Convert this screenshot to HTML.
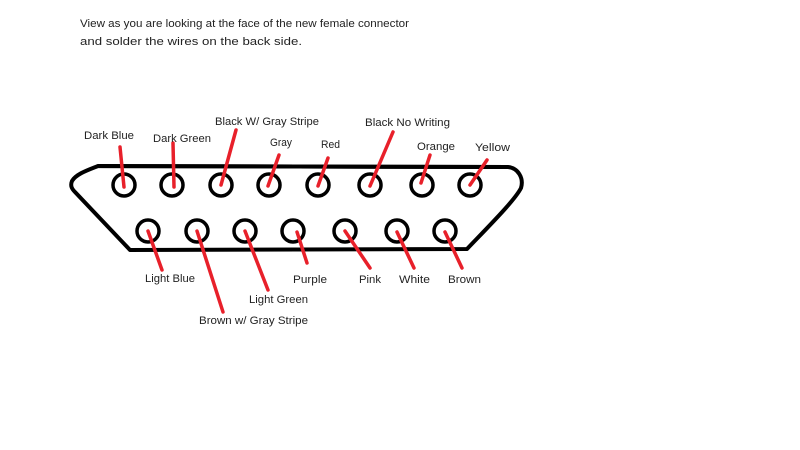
<!DOCTYPE html>
<html><head><meta charset="utf-8"><style>
html,body{margin:0;padding:0;background:#fff;}
svg{display:block;}
text{font-family:"Liberation Sans",sans-serif;font-size:11px;fill:#222;}
</style></head><body>
<svg width="800" height="450" viewBox="0 0 800 450">
<text x="80" y="27" textLength="329" lengthAdjust="spacingAndGlyphs">View as you are looking at the face of the new female connector</text>
<text x="80" y="45" textLength="222" lengthAdjust="spacingAndGlyphs">and solder the wires on the back side.</text>
<path d="M98,166 C88,170 76,174 72,181 C70,186 72,189 75,192 L130,250 L467,249 C490,225 515,200 521,188 C524,178 518,168 508,167 Z" fill="none" stroke="#000" stroke-width="4" stroke-linejoin="round"/>
<line x1="98" y1="166" x2="508" y2="167" stroke="#000" stroke-width="4"/>
<g fill="none" stroke="#000" stroke-width="3.5">
<circle cx="124" cy="185" r="11"/><circle cx="172" cy="185" r="11"/><circle cx="221" cy="185" r="11"/><circle cx="269" cy="185" r="11"/><circle cx="318" cy="185" r="11"/><circle cx="370" cy="185" r="11"/><circle cx="422" cy="185" r="11"/><circle cx="470" cy="185" r="11"/>
<circle cx="148" cy="231" r="11"/><circle cx="197" cy="231" r="11"/><circle cx="245" cy="231" r="11"/><circle cx="293" cy="231" r="11"/><circle cx="345" cy="231" r="11"/><circle cx="397" cy="231" r="11"/><circle cx="445" cy="231" r="11"/>
</g>
<g stroke="#e8202a" stroke-width="3.5" stroke-linecap="round">
<line x1="120" y1="147" x2="124" y2="187"/>
<line x1="173" y1="143" x2="174" y2="187"/>
<line x1="236" y1="130" x2="221" y2="185"/>
<line x1="279" y1="155" x2="268" y2="186"/>
<line x1="328" y1="158" x2="318" y2="186"/>
<line x1="393" y1="132" x2="370" y2="186"/>
<line x1="430" y1="155" x2="421" y2="183"/>
<line x1="487" y1="160" x2="470" y2="185"/>
<line x1="148" y1="231" x2="162" y2="270"/>
<line x1="197" y1="231" x2="223" y2="312"/>
<line x1="245" y1="231" x2="268" y2="290"/>
<line x1="297" y1="232" x2="307" y2="263"/>
<line x1="345" y1="231" x2="370" y2="268"/>
<line x1="397" y1="232" x2="414" y2="268"/>
<line x1="445" y1="232" x2="462" y2="268"/>
</g>
<text x="84" y="139" textLength="50" lengthAdjust="spacingAndGlyphs">Dark Blue</text>
<text x="153" y="142" textLength="58" lengthAdjust="spacingAndGlyphs">Dark Green</text>
<text x="215" y="125" textLength="104" lengthAdjust="spacingAndGlyphs">Black W/ Gray Stripe</text>
<text x="270" y="146" textLength="22" lengthAdjust="spacingAndGlyphs">Gray</text>
<text x="321" y="148" textLength="19" lengthAdjust="spacingAndGlyphs">Red</text>
<text x="365" y="126" textLength="85" lengthAdjust="spacingAndGlyphs">Black No Writing</text>
<text x="417" y="150" textLength="38" lengthAdjust="spacingAndGlyphs">Orange</text>
<text x="475" y="151" textLength="35" lengthAdjust="spacingAndGlyphs">Yellow</text>
<text x="145" y="282" textLength="50" lengthAdjust="spacingAndGlyphs">Light Blue</text>
<text x="199" y="324" textLength="109" lengthAdjust="spacingAndGlyphs">Brown w/ Gray Stripe</text>
<text x="249" y="303" textLength="59" lengthAdjust="spacingAndGlyphs">Light Green</text>
<text x="293" y="283" textLength="34" lengthAdjust="spacingAndGlyphs">Purple</text>
<text x="359" y="283" textLength="22" lengthAdjust="spacingAndGlyphs">Pink</text>
<text x="399" y="283" textLength="31" lengthAdjust="spacingAndGlyphs">White</text>
<text x="448" y="283" textLength="33" lengthAdjust="spacingAndGlyphs">Brown</text>
</svg>
</body></html>
